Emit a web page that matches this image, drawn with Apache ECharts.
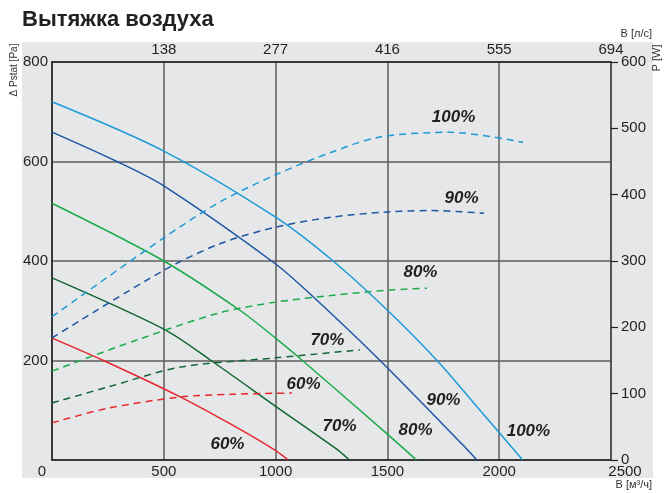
<!DOCTYPE html>
<html><head><meta charset="utf-8">
<script src="https://cdn.jsdelivr.net/npm/echarts@6/dist/echarts.min.js"></script>
<style>html,body{margin:0;padding:0;background:#fff}#c{width:665px;height:493px}</style>
</head><body><div id="c"></div>
<script>
// Flow, m³/h (bottom axis) and l/s (top axis)
const flowTicks = [0, 500, 1000, 1500, 2000, 2500];
const topTickLabels = ['', '138', '277', '416', '555', '694'];

// Static pressure curves, Pa  [flow m³/h, pressure]
const pressure100 = [[0,720],[500,621],[1000,488],[1257,400],[1500,301],[1722,200],[1914,100],[2105,0]];
const pressure90  = [[0,659],[290,600],[500,551],[1000,394],[1168,328],[1467,200],[1838,30],[1900,0]];
const pressure80  = [[0,516],[500,400],[840,301],[1000,245],[1120,200],[1500,52],[1630,0]];
const pressure70  = [[0,366],[500,263],[711,200],[1000,108],[1279,20],[1330,0]];
const pressure60  = [[0,245],[230,200],[573,127],[800,72],[997,20],[1057,0]];

// Power curves, W  [flow m³/h, power]
const power100 = [[0,216],[500,335],[751,389],[1000,430],[1250,464],[1467,487],[1780,494],[2107,479]];
const power90  = [[0,184],[500,286],[751,326],[1000,351],[1250,366],[1503,374],[1700,376],[1932,372]];
const power80  = [[0,134],[380,181],[751,222],[1000,238],[1250,248],[1500,256],[1677,259]];
const power70  = [[0,86],[250,110],[573,140],[1000,154],[1377,166]];
const power60  = [[0,56],[250,78],[573,95],[800,99],[1073,101]];

// Curve labels [flow, pressure(Pa scale), text]
const curveLabels = [
  [1798,687,'100%'],[1834,525,'90%'],[1650,376,'80%'],[1234,239,'70%'],[1127,151,'60%'],
  [1753,119,'90%'],[2133,56,'100%'],[1628,58,'80%'],[1288,66,'70%'],[787,30,'60%']
];

const C100 = '#1b9ad7', C90 = '#1d56a5', C80 = '#1bab4c', C70 = '#0f6631', C60 = '#e8262d';

const chart = echarts.init(document.getElementById('c'));
const solid = (name, data, color) => ({
  name, type: 'line', data, yAxisIndex: 0, showSymbol: false, smooth: 0.3,
  lineStyle: { color, width: 1.5 }, z: 3, silent: true
});
const dashed = (name, data, color) => ({
  name, type: 'line', data, yAxisIndex: 1, showSymbol: false, smooth: 0.3,
  lineStyle: { color, width: 1.5, type: [7, 5] }, z: 3, silent: true
});
const fs = 15, txt = '#231f20', font = 'Liberation Sans, Arial, sans-serif';

chart.setOption({
  animation: false,
  backgroundColor: '#fff',
  grid: { left: 52, right: 54, top: 62, bottom: 33 },
  graphic: [
    { type: 'rect', z: -10, shape: { x: 22, y: 42, width: 631, height: 436 }, style: { fill: '#e6e7e8' } },
    { type: 'text', left: 22, top: 9, style: { text: 'Вытяжка воздуха', font: 'bold 22px ' + font, fill: txt } },
    { type: 'text', x: 14, y: 70, rotation: Math.PI/2, style: { text: 'Δ Pstat [Pa]', font: '10px ' + font, fill: '#333', align: 'center', verticalAlign: 'middle' } },
    { type: 'text', x: 657, y: 58, rotation: Math.PI/2, style: { text: 'P [W]', font: '11px ' + font, fill: '#333', align: 'center', verticalAlign: 'middle' } },
    { type: 'text', x: 652, y: 34, style: { text: 'В [л/с]', font: '11px ' + font, fill: '#333', align: 'right', verticalAlign: 'middle' } },
    { type: 'text', x: 652, y: 485, style: { text: 'В [м³/ч]', font: '11px ' + font, fill: '#333', align: 'right', verticalAlign: 'middle' } }
  ],
  xAxis: [
    { type: 'value', position: 'bottom', min: flowTicks[0], max: flowTicks[flowTicks.length-1], interval: 500,
      axisLine: { show: true, onZero: false, lineStyle: { color: '#222', width: 1.5 } },
      axisTick: { show: false },
      splitLine: { show: true, lineStyle: { color: '#5c5c5c', width: 1.5 } },
      axisLabel: { color: txt, fontSize: fs, fontFamily: font, margin: 4,
        formatter: v => v === 0 ? '{a|0}' : (v === 2500 ? '{b|2500}' : String(v)),
        rich: { a: { fontSize: fs, fontFamily: font, color: txt, padding: [0, 20, 0, 0] },
                b: { fontSize: fs, fontFamily: font, color: txt, padding: [0, 0, 0, 28] } } } },
    { type: 'value', position: 'top', min: flowTicks[0], max: flowTicks[flowTicks.length-1], interval: 500,
      axisLine: { show: true, onZero: false, lineStyle: { color: '#222', width: 1.5 } },
      axisTick: { show: false }, splitLine: { show: false },
      axisLabel: { color: txt, fontSize: fs, fontFamily: font, margin: 5,
        formatter: v => topTickLabels[Math.round(v / 500)] } }
  ],
  yAxis: [
    { type: 'value', position: 'left', min: 0, max: 800, interval: 200,
      axisLine: { show: true, onZero: false, lineStyle: { color: '#222', width: 1.5 } },
      axisTick: { show: false },
      splitLine: { show: true, lineStyle: { color: '#5c5c5c', width: 1.5 } },
      axisLabel: { color: txt, fontSize: fs, fontFamily: font, margin: 4, showMinLabel: false } },
    { type: 'value', position: 'right', min: 0, max: 600, interval: 100,
      axisLine: { show: true, onZero: false, lineStyle: { color: '#444', width: 1.5 } },
      axisTick: { show: true, inside: false, length: 7, lineStyle: { color: '#222', width: 1.2 } },
      splitLine: { show: false },
      axisLabel: { color: txt, fontSize: fs, fontFamily: font, margin: 10 } }
  ],
  series: [
    solid('p100', pressure100, C100), solid('p90', pressure90, C90), solid('p80', pressure80, C80),
    solid('p70', pressure70, C70), solid('p60', pressure60, C60),
    dashed('w100', power100, C100), dashed('w90', power90, C90), dashed('w80', power80, C80),
    dashed('w70', power70, C70), dashed('w60', power60, C60),
    { type: 'scatter', yAxisIndex: 0, data: curveLabels, symbolSize: 1, itemStyle: { opacity: 0 }, silent: true, z: 5,
      label: { show: true, position: [0, 0], align: 'center', verticalAlign: 'middle', formatter: p => p.data[2],
        fontFamily: font, fontWeight: 'bold', fontStyle: 'italic', fontSize: 17, color: txt, opacity: 1 } }
  ]
});
</script>
</body></html>
